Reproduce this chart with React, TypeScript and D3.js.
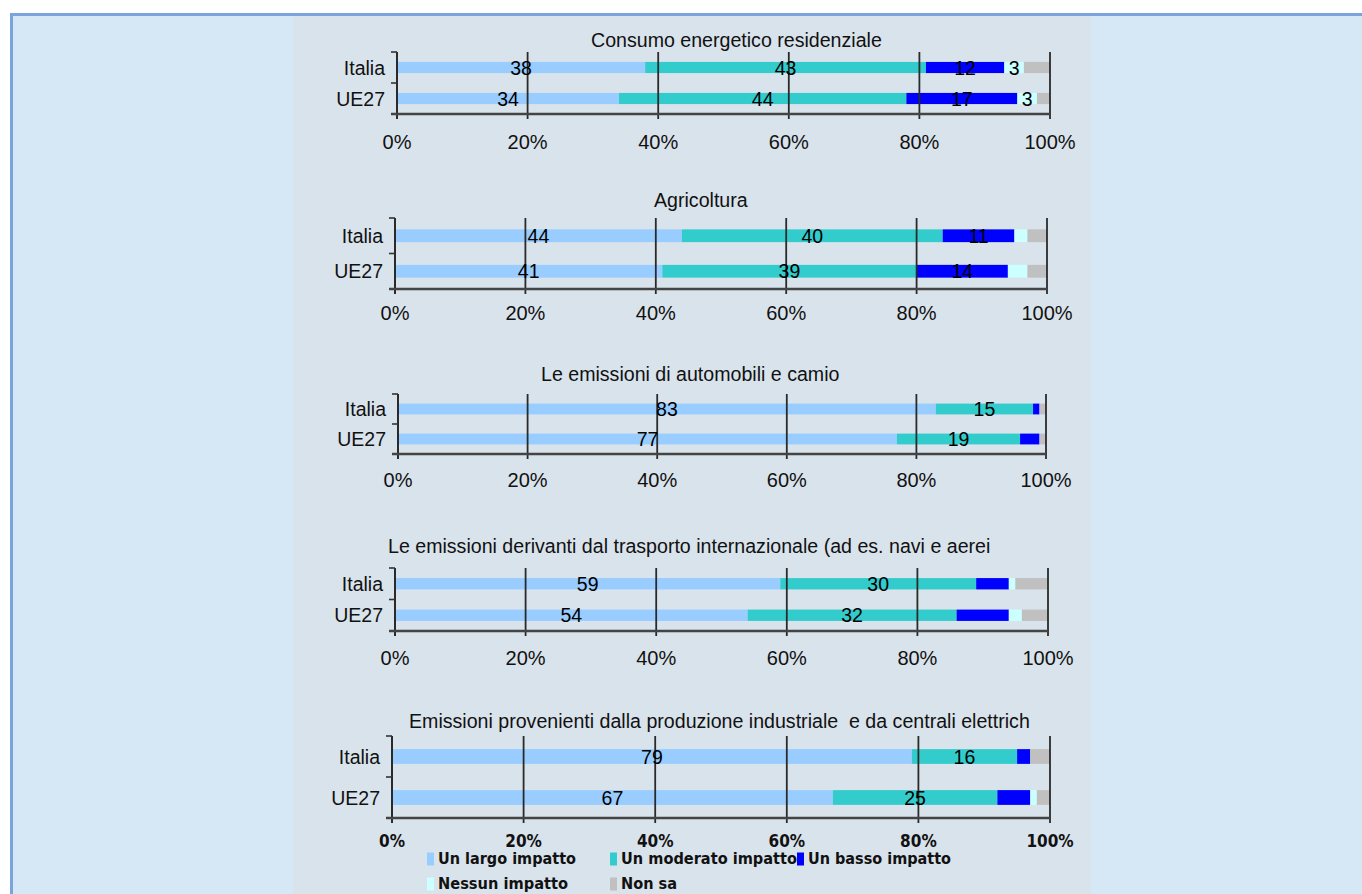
import React from 'react';
import * as d3 from 'd3';

const categories = ['Italia', 'UE27'];
const seriesNames = ['Un largo impatto', 'Un moderato impatto', 'Un basso impatto', 'Nessun impatto', 'Non sa'];
const seriesColors = ['#99CCFF', '#33CCCC', '#0000FF', '#CCFFFF', '#C0C0C0'];
const chartTitles = [
  'Consumo energetico residenziale',
  'Agricoltura',
  'Le emissioni di automobili e camio',
  'Le emissioni derivanti dal trasporto internazionale (ad es. navi e aerei',
  'Emissioni provenienti dalla produzione industriale  e da centrali elettrich',
];
const consumoValues = [[38, 43, 12, 3, 4], [34, 44, 17, 3, 2]];
const agricolturaValues = [[44, 40, 11, 2, 3], [41, 39, 14, 3, 3]];
const automobiliValues = [[83, 15, 1, 0, 1], [77, 19, 3, 0, 1]];
const trasportoValues = [[59, 30, 5, 1, 5], [54, 32, 8, 2, 4]];
const industriaValues = [[79, 16, 2, 0, 3], [67, 25, 5, 1, 2]];
const labelledSeries = [4, 3, 2, 2, 2];
const tickValues = [0, 20, 40, 60, 80, 100];

const allValues = [consumoValues, agricolturaValues, automobiliValues, trasportoValues, industriaValues];

const layouts = [
  { titleX: 591, titleY: 40, top: 52, bottom: 114, x0: 397, x1: 1050, tickY: 142 },
  { titleX: 654, titleY: 200, top: 218, bottom: 289, x0: 395, x1: 1047, tickY: 313 },
  { titleX: 541, titleY: 374, top: 394, bottom: 454, x0: 398, x1: 1046, tickY: 480 },
  { titleX: 388, titleY: 546, top: 568, bottom: 631, x0: 395, x1: 1048, tickY: 658 },
  { titleX: 409, titleY: 721, top: 736, bottom: 818, x0: 392, x1: 1050, tickY: 841 },
];

const SANS = '"Liberation Sans", Arial, sans-serif';
const BOLD = '"DejaVu Sans Condensed", "DejaVu Sans", sans-serif';

function Chart({ idx }: { idx: number }) {
  const L = layouts[idx];
  const values = allValues[idx];
  const x = d3.scaleLinear().domain([0, 100]).range([L.x0, L.x1]);
  const y = d3.scaleBand<string>().domain(categories).range([L.top, L.bottom]).paddingInner(0.64).paddingOuter(0.32);
  const isLast = idx === layouts.length - 1;
  const stackData = categories.map((c, i) => {
    const o: any = { cat: c };
    seriesNames.forEach((s, j) => (o[s] = values[i][j]));
    return o;
  });
  const stacked = d3.stack<any>().keys(seriesNames)(stackData);
  const step = (L.bottom - L.top) / categories.length;
  return (
    <g>
      <text x={L.titleX} y={L.titleY} textAnchor="start" dominantBaseline="central" fontFamily={SANS} fontSize={19.6} fill="#111" style={{ whiteSpace: 'pre' }}>
        {chartTitles[idx]}
      </text>
      {stacked.map((layer, j) => (
        <g key={j}>
          {layer.map((d, i) => {
            const w = x(d[1]) - x(d[0]);
            if (w <= 0) return null;
            return (
              <rect key={i} x={x(d[0])} y={y(categories[i])} width={w} height={y.bandwidth()} fill={seriesColors[j]} />
            );
          })}
        </g>
      ))}
      {tickValues.slice(1).map((t) => (
        <line key={t} x1={x(t)} x2={x(t)} y1={L.top} y2={L.bottom + 5} stroke="#2a2a2a" strokeWidth={1.8} />
      ))}
      <line x1={L.x0} x2={L.x0} y1={L.top} y2={L.bottom + 5} stroke="#2a2a2a" strokeWidth={2} />
      {d3.range(categories.length + 1).map((k) => (
        <line key={k} x1={L.x0 - 6} x2={L.x0} y1={L.top + k * step} y2={L.top + k * step} stroke="#333" strokeWidth={1.6} />
      ))}
      <line x1={L.x0 - 6} x2={L.x1} y1={L.bottom} y2={L.bottom} stroke="#444" strokeWidth={2.6} />
      {categories.map((c) => (
        <text key={c} x={L.x0 - 12} y={(y(c) as number) + y.bandwidth() / 2} textAnchor="end" dominantBaseline="central" fontFamily={SANS} fontSize={19.5} fill="#111">
          {c}
        </text>
      ))}
      {stacked.slice(0, labelledSeries[idx]).map((layer, j) =>
        layer.map((d, i) => (
          <text key={`${j}-${i}`} x={x((d[0] + d[1]) / 2)} y={(y(categories[i]) as number) + y.bandwidth() / 2} textAnchor="middle" dominantBaseline="central" fontFamily={SANS} fontSize={19.5} fill="#000">
            {values[i][j]}
          </text>
        ))
      )}
      {tickValues.map((t) => (
        <text key={t} x={x(t)} y={L.tickY} textAnchor="middle" dominantBaseline="central" fontFamily={isLast ? BOLD : SANS} fontWeight={isLast ? 'bold' : 'normal'} fontSize={isLast ? 17 : 20} fill="#111">
          {`${t}%`}
        </text>
      ))}
    </g>
  );
}

const legendPos = [
  { x: 427, y: 859, w: 138 },
  { x: 610, y: 859, w: 176 },
  { x: 797, y: 859, w: 143 },
  { x: 427, y: 884, w: 130 },
  { x: 610, y: 884, w: 56 },
];

export default function App() {
  return (
    <svg width={1362} height={894} style={{ position: 'absolute', left: 0, top: 0 }}>
      <rect x={0} y={0} width={1362} height={894} fill="#ffffff" />
      <rect x={10} y={13} width={1360} height={890} fill="#D6E8F6" />
      <rect x={10} y={13} width={1360} height={3} fill="#7BA3DC" />
      <rect x={10} y={13} width={3} height={890} fill="#7BA3DC" />
      <rect x={293} y={16} width={798} height={890} fill="#D9E3EC" />
      {layouts.map((_, i) => (
        <Chart key={i} idx={i} />
      ))}
      {seriesNames.map((s, j) => (
        <g key={s}>
          <text
            x={legendPos[j].x + 11}
            y={legendPos[j].y}
            dominantBaseline="central"
            fontFamily={BOLD}
            fontWeight="bold"
            fontSize={15.5}
            fill="#111"
            textLength={legendPos[j].w}
            lengthAdjust="spacingAndGlyphs"
          >
            {s}
          </text>
          <rect x={legendPos[j].x} y={legendPos[j].y - 6.5} width={7} height={13} fill={seriesColors[j]} />
        </g>
      ))}
    </svg>
  );
}
